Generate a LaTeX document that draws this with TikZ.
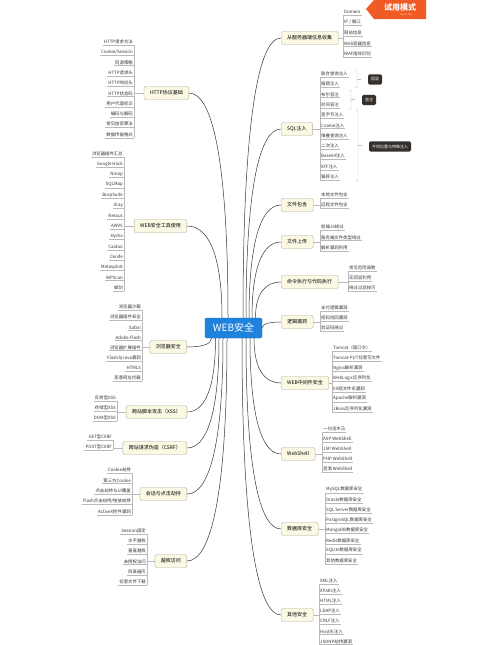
\documentclass[tikz,border=0pt]{standalone}
\usepackage{fontspec}
\setmainfont{Noto Sans CJK SC}
\usetikzlibrary{calc}

\definecolor{webblue}{HTML}{1F83DE}
\definecolor{topicfill}{HTML}{FBF9E4}
\definecolor{topicline}{HTML}{AEB096}
\definecolor{tagdark}{HTML}{35302C}
\definecolor{trialorange}{HTML}{F05A24}

% leaves of one branch: name, x, first underline y, step, texts
\newcommand{\rightleaves}[5]{%
  \foreach \lbl [count=\i] in {#5} {
    \node[leaf,anchor=south west] (#1-\i) at (#2,{#3+(\i-1)*#4}) {\lbl};
    \draw[twig] (#1-\i.south west) -- (#1-\i.south east);
    \xdef\lastleaf{\i}
  }
  \draw[twig] (#1-1.south west) -- (#1-\lastleaf.south west);
  \draw[twig] (#1.east) -- (#1.east -| #1-1.south west);
}
\newcommand{\leftleaves}[5]{%
  \foreach \lbl [count=\i] in {#5} {
    \node[leaf,anchor=south east] (#1-\i) at (#2,{#3+(\i-1)*#4}) {\lbl};
    \draw[twig] (#1-\i.south west) -- (#1-\i.south east);
    \xdef\lastleaf{\i}
  }
  \draw[twig] (#1-1.south east) -- (#1-\lastleaf.south east);
  \draw[twig] (#1.west) -- (#1.west -| #1-1.south east);
}

\begin{document}
\begin{tikzpicture}[x=1pt,y=-1pt]
\tikzstyle{leaf}=[inner xsep=1pt,inner ysep=0.9pt,font=\fontsize{4.4}{5}\selectfont,text=black!80]
\tikzstyle{twig}=[draw=gray!55,line width=0.35pt]
\tikzstyle{topic}=[draw=topicline,fill=topicfill,rounded corners=2pt,line width=0.4pt,inner xsep=6pt,minimum height=13pt,font=\fontsize{5}{6}\selectfont]
\tikzstyle{branch}=[draw=black!80,line width=0.5pt]
\tikzstyle{tag}=[fill=tagdark,text=white,rounded corners=1.5pt,inner xsep=3pt,minimum height=9pt,font=\fontsize{4}{5}\selectfont]
\tikzstyle{brace}=[draw=gray!50,line width=0.4pt,rounded corners=1pt]

\useasboundingbox (0,0) rectangle (490,645);

% centre
\node[fill=webblue,draw=webblue!80!black,text=white,rounded corners=2pt,minimum width=57pt,minimum height=20pt,font=\fontsize{10}{12}\selectfont] (web) at (233.5,328) {WEB安全};

% right topics
\node[topic,anchor=west] (r1) at (281,38) {从服务器端信息收集};
\node[topic,anchor=west] (r2) at (281,129) {SQL注入};
\node[topic,anchor=west] (r3) at (281,205) {文件包含};
\node[topic,anchor=west] (r4) at (281,242) {文件上传};
\node[topic,anchor=west] (r5) at (281,282) {命令执行与代码执行};
\node[topic,anchor=west] (r6) at (281,322) {逻辑漏洞};
\node[topic,anchor=west] (r7) at (281,383) {WEB中间件安全};
\node[topic,anchor=west] (r8) at (281,454) {WebShell};
\node[topic,anchor=west] (r9) at (281,529) {数据库安全};
\node[topic,anchor=west] (r10) at (281,615) {其他安全};

% left topics
\node[topic,anchor=east] (l1) at (189,93) {HTTP协议基础};
\node[topic,anchor=east] (l2) at (187,226) {WEB安全工具使用};
\node[topic,anchor=east] (l3) at (187,347) {浏览器安全};
\node[topic,anchor=east] (l4) at (187,412) {跨站脚本攻击（XSS）};
\node[topic,anchor=east] (l5) at (187,448) {跨站请求伪造（CSRF）};
\node[topic,anchor=east] (l6) at (187,494) {会话与点击劫持};
\node[topic,anchor=east] (l7) at (187,561) {越权访问};

% branches
\foreach \br/\a/\dx/\e in {r1/north/9.5/west, r2/north/12.5/west, r3/north/15.5/west, r4/north/18.5/west,
    r5/north/22/west, r6/east/0/west, r7/south/20.5/west, r8/south/16.5/west, r9/south/12.5/west,
    r10/south/8.5/west, l1/north/-5.5/east, l2/north/-11.5/east, l3/south/-22/east,
    l4/south/-18/east, l5/south/-14.5/east, l6/south/-10.5/east, l7/south/-6.5/east}{
  \coordinate (s-\br) at ([xshift=\dx pt]web.\a);
  \draw[branch] (s-\br) .. controls ($(s-\br)!0.7!(s-\br |- \br.\e)$) and ($(\br.\e)!0.6!(s-\br |- \br.\e)$) .. (\br.\e);
}

% leaves
\rightleaves{r1}{343}{15}{10.5}{Domain, IP / 端口, 网站信息, Web容器信息, WAF指纹识别}
\rightleaves{r2}{320}{77}{10.3}{联合查询注入, 报错注入, 布尔盲注, 时间盲注, 宽字节注入, Cookie注入, 堆叠查询注入, 二次注入, Base64注入, XFF注入, 偏移注入}
\rightleaves{r3}{320}{198}{10}{本地文件包含, 远程文件包含}
\rightleaves{r4}{320}{230}{10.5}{前端JS绕过, 服务端文件类型绕过, 解析漏洞利用}
\rightleaves{r5}{348}{271}{10}{常见危险函数, 无回显利用, 绕过过滤技巧}
\rightleaves{r6}{320}{311}{10}{支付逻辑漏洞, 密码找回漏洞, 验证码绕过}
\rightleaves{r7}{332}{351}{10.2}{Tomcat（弱口令）, Tomcat-PUT任意写文件, Nginx解析漏洞, WebLogic反序列化, IIS短文件名漏洞, Apache解析漏洞, JBoss反序列化漏洞}
\rightleaves{r8}{322}{432}{10}{一句话木马, ASP WebShell, JSP WebShell, PHP WebShell, 混淆 WebShell}
\rightleaves{r9}{325}{493}{10.15}{MySQL数据库安全, Oracle数据库安全, SQL Server数据库安全, PostgreSQL数据库安全, MongoDB数据库安全, Redis数据库安全, SQLite数据库安全, 其他数据库安全}
\rightleaves{r10}{319}{584}{10.1}{XML注入, XPath注入, HTML注入, LDAP注入, CRLF注入, Host头注入, JSONP劫持漏洞}

\leftleaves{l1}{134}{45}{10.3}{HTTP请求方法, Cookie/Session, 同源策略, HTTP请求头, HTTP响应头, HTTP状态码, 用户代理标识, 编码与解码, 常见加密算法, 数据传输格式}
\leftleaves{l2}{124}{157}{10.3}{浏览器插件汇总, Google Hack, Nmap, SQLMap, BurpSuite, Xray, Nessus, AWVS, Hydra, Caidao, Cknife, Metasploit, WPScan, 蚁剑}
\leftleaves{l3}{142}{310}{10.15}{浏览器沙箱, 浏览器插件安全, Safari, Adobe Flash, 浏览器扩展插件, Flash与Java漏洞, HTML5, 恶意网址拦截}
\leftleaves{l4}{117}{401}{10}{反射型XSS, 存储型XSS, DOM型XSS}
\leftleaves{l5}{113}{440}{10}{GET型CSRF, POST型CSRF}
\leftleaves{l6}{132}{473}{10.5}{Cookie劫持, 第三方Cookie, 点击劫持与UI覆盖, Flash点击劫持/拖放劫持, ActiveX控件漏洞}
\leftleaves{l7}{147}{534}{10.2}{Session固定, 水平越权, 垂直越权, 未授权访问, 目录遍历, 任意文件下载}

% sql summaries
\draw[brace] (354,70) -- (357,70) -- (357,88) -- (354,88);
\draw[brace] (357,79) -- (361,79);
\node[tag] (t1) at (375,79.5) {回显};
\draw[brace] (348,90) -- (351,90) -- (351,109) -- (348,109);
\draw[brace] (351,99.5) -- (355,99.5);
\node[tag] (t2) at (369,100) {盲注};
\draw[brace] (355,110) -- (358,110) -- (358,181) -- (355,181);
\draw[brace] (358,145.5) -- (362,145.5);
\node[tag] (t3) at (390,146.5) {不同位置与特殊注入};

% trial badge
\fill[trialorange] (366,9) -- (374,0) -- (426,0) -- (426,19) -- (374,19) -- cycle;
\node[text=white,font=\fontsize{8}{9}\selectfont\bfseries] (trial) at (400,7) {试用模式};
\node[text=white!80!trialorange,font=\fontsize{2.2}{3}\selectfont] (trialnote) at (406,15) {XMind: ZEN};
\end{tikzpicture}
\end{document}
